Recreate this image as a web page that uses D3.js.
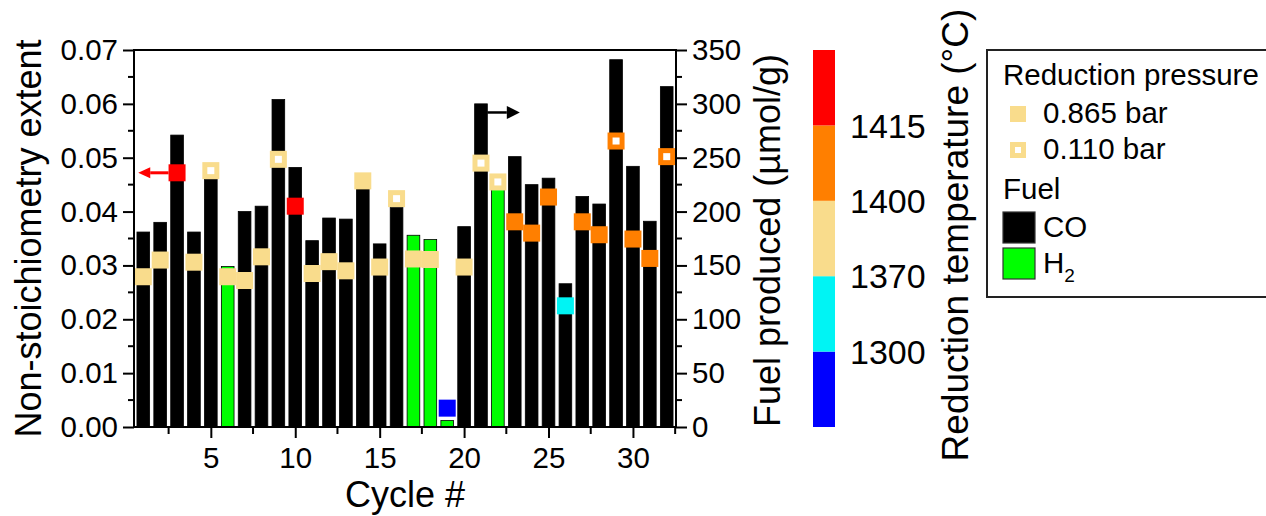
<!DOCTYPE html>
<html>
<head>
<meta charset="utf-8">
<script src="https://cdn.jsdelivr.net/npm/d3@7/dist/d3.min.js"></script>
<style>
  html, body { margin: 0; padding: 0; background: #fff; }
  svg { display: block; font-family: "Liberation Sans", Arial, sans-serif; }
</style>
</head>
<body>
<svg id="chart" width="1266" height="516"></svg>
<script>
// Cycle numbers
const cycles = [1, 2, 3, 4, 5, 6, 7, 8, 9, 10, 11, 12, 13, 14, 15, 16,
                17, 18, 19, 20, 21, 22, 23, 24, 25, 26, 27, 28, 29, 30, 31, 32];
// Fuel produced per cycle (µmol/g), right axis
const fuelProduced = [181, 190, 271, 181, 230, 149, 200, 205, 304, 241, 173, 194, 193, 223, 170, 204,
                      178, 174, 6, 186, 300, 222, 251, 225, 231, 133, 214, 207, 341, 242, 191, 316];
// Non-stoichiometry extent per cycle, left axis
const nonStoich = [0.0279, 0.0310, 0.0472, 0.0306, 0.0476, 0.0279, 0.0272, 0.0316,
                   0.0497, 0.0410, 0.0285, 0.0307, 0.0290, 0.0457, 0.0297, 0.0424,
                   0.0312, 0.0311, 0.0035, 0.0297, 0.0490, 0.0455, 0.0381, 0.0360,
                   0.0427, 0.0225, 0.0381, 0.0357, 0.0531, 0.0349, 0.0313, 0.0502];
// Fuel type per cycle
const fuelType = ["CO", "CO", "CO", "CO", "CO", "H2", "CO", "CO", "CO", "CO", "CO", "CO", "CO", "CO", "CO", "CO",
                  "H2", "H2", "H2", "CO", "CO", "H2", "CO", "CO", "CO", "CO", "CO", "CO", "CO", "CO", "CO", "CO"];
// Reduction temperature per cycle (°C)
const reductionTemp = [1385, 1385, 1430, 1385, 1385, 1385, 1385, 1385, 1385, 1430, 1385, 1385, 1385, 1385, 1385, 1385,
                       1385, 1385, 1280, 1385, 1385, 1385, 1410, 1410, 1410, 1350, 1410, 1410, 1410, 1410, 1410, 1410];
// Reduction pressure per cycle (bar)
const reductionPressure = [0.865, 0.865, 0.865, 0.865, 0.110, 0.865, 0.865, 0.865, 0.110, 0.865, 0.865, 0.865, 0.865, 0.865, 0.865, 0.110,
                           0.865, 0.865, 0.865, 0.865, 0.110, 0.110, 0.865, 0.865, 0.865, 0.865, 0.865, 0.865, 0.110, 0.865, 0.865, 0.110];

// Axis ticks and colour bar
const leftTicks = [0, 0.01, 0.02, 0.03, 0.04, 0.05, 0.06, 0.07];
const rightTicks = [0, 50, 100, 150, 200, 250, 300, 350];
const xTicks = [5, 10, 15, 20, 25, 30];
const tempThresholds = [1300, 1370, 1400, 1415];
const tempColors = ["#0000ff", "#00f4f4", "#f9dc8c", "#ff7f00", "#ff0000"];
const tempLabels = ["1300", "1370", "1400", "1415"];

const data = cycles.map((c, i) => ({
  cycle: c, fuel: fuelProduced[i], delta: nonStoich[i], type: fuelType[i],
  temp: reductionTemp[i], pressure: reductionPressure[i]
}));

const svg = d3.select("#chart");
const plot = { left: 134, right: 676, top: 50, bottom: 427 };

const x = d3.scaleLinear().domain([0.45, 32.55]).range([plot.left, plot.right]);
const yL = d3.scaleLinear().domain([0, 0.07]).range([plot.bottom, plot.top]);
const yR = d3.scaleLinear().domain([0, 350]).range([plot.bottom, plot.top]);
const tempColor = d3.scaleThreshold().domain(tempThresholds).range(tempColors);
const fuelColor = d3.scaleOrdinal().domain(["CO", "H2"]).range(["#000000", "#00ff00"]);

const step = x(2) - x(1);
const barW = step * 0.75;
const mark = 17;

// Bars: fuel produced
svg.append("g").selectAll("rect").data(data).join("rect")
  .attr("x", d => x(d.cycle) - barW / 2)
  .attr("width", barW)
  .attr("y", d => yR(d.fuel))
  .attr("height", d => yR(0) - yR(d.fuel))
  .attr("fill", d => fuelColor(d.type))
  .attr("stroke", "#000")
  .attr("stroke-width", 0.8);

// Square markers: non-stoichiometry extent coloured by reduction temperature
const markers = svg.append("g").selectAll("g").data(data).join("g")
  .attr("transform", d => `translate(${x(d.cycle)},${yL(d.delta)})`);
markers.append("rect")
  .attr("x", -mark / 2).attr("y", -mark / 2)
  .attr("width", mark).attr("height", mark)
  .attr("fill", d => tempColor(d.temp));
markers.filter(d => d.pressure < 0.5).append("rect")
  .attr("x", -3.5).attr("y", -3.5).attr("width", 7).attr("height", 7)
  .attr("fill", "#fff");

// Axes
const tickFont = 29.5;
const axisStroke = 2;

function styleAxis(g) {
  g.select(".domain").remove();
  g.selectAll("line").attr("stroke", "#000").attr("stroke-width", axisStroke);
  g.selectAll("text").attr("font-size", tickFont).attr("fill", "#000")
    .attr("font-family", "'Liberation Sans', Arial, sans-serif");
}

// Left axis
const gL = svg.append("g").attr("transform", `translate(${plot.left},0)`)
  .call(d3.axisLeft(yL).tickValues(leftTicks).tickFormat(d3.format(".2f")).tickSize(11).tickPadding(5));
styleAxis(gL);
svg.append("g").selectAll("line").data(d3.range(0.005, 0.07, 0.01)).join("line")
  .attr("x1", plot.left - 6).attr("x2", plot.left)
  .attr("y1", d => yL(d)).attr("y2", d => yL(d))
  .attr("stroke", "#000").attr("stroke-width", axisStroke);

// Right axis
const gR = svg.append("g").attr("transform", `translate(${plot.right},0)`)
  .call(d3.axisRight(yR).tickValues(rightTicks).tickSize(11).tickPadding(5));
styleAxis(gR);
svg.append("g").selectAll("line").data(d3.range(25, 350, 50)).join("line")
  .attr("x1", plot.right).attr("x2", plot.right + 6)
  .attr("y1", d => yR(d)).attr("y2", d => yR(d))
  .attr("stroke", "#000").attr("stroke-width", axisStroke);

// Bottom axis
const gB = svg.append("g").attr("transform", `translate(0,${plot.bottom})`)
  .call(d3.axisBottom(x).tickValues(xTicks).tickFormat(d3.format("d")).tickSize(11).tickPadding(9));
styleAxis(gB);
svg.append("g").selectAll("line").data([2.5, 7.5, 12.5, 17.5, 22.5, 27.5, 32.5]).join("line")
  .attr("x1", d => x(d)).attr("x2", d => x(d))
  .attr("y1", plot.bottom).attr("y2", plot.bottom + 7)
  .attr("stroke", "#000").attr("stroke-width", axisStroke);

// Frame
svg.append("rect")
  .attr("x", plot.left).attr("y", plot.top)
  .attr("width", plot.right - plot.left).attr("height", plot.bottom - plot.top)
  .attr("fill", "none").attr("stroke", "#000").attr("stroke-width", axisStroke);

// Axis indicator arrows
function arrow(x1, x2, yv, color, w, headL, headH) {
  const dir = Math.sign(x2 - x1);
  svg.append("line")
    .attr("x1", x1).attr("x2", x2 - dir * headL).attr("y1", yv).attr("y2", yv)
    .attr("stroke", color).attr("stroke-width", w);
  svg.append("path")
    .attr("d", `M${x2},${yv} L${x2 - dir * headL},${yv - headH / 2} L${x2 - dir * headL},${yv + headH / 2} Z`)
    .attr("fill", color);
}
const d3c = data[2];
arrow(x(d3c.cycle) - mark / 2, x(0.7), yL(d3c.delta), "#ff0000", 3, 12, 11);
const d21 = data[20];
arrow(x(d21.cycle) + barW / 2, x(23.3), yR(292), "#000000", 2.5, 13, 13);

// Axis titles
const titleFont = 36;
svg.append("text")
  .attr("transform", `translate(41,${(plot.top + plot.bottom) / 2}) rotate(-90)`)
  .attr("text-anchor", "middle").attr("font-size", titleFont)
  .text("Non-stoichiometry extent");
svg.append("text")
  .attr("transform", `translate(780,${(plot.top + plot.bottom) / 2 + 2}) rotate(-90)`)
  .attr("text-anchor", "middle").attr("font-size", titleFont)
  .text("Fuel produced (µmol/g)");
svg.append("text")
  .attr("x", (plot.left + plot.right) / 2).attr("y", 507)
  .attr("text-anchor", "middle").attr("font-size", titleFont)
  .text("Cycle #");

// Colour bar for reduction temperature
const cb = { x: 813, w: 22, top: 50, bottom: 427 };
const cbY = d3.scaleLinear().domain([0, tempColors.length]).range([cb.bottom, cb.top]);
svg.append("g").selectAll("rect").data(tempColors).join("rect")
  .attr("x", cb.x).attr("width", cb.w)
  .attr("y", (d, i) => cbY(i + 1))
  .attr("height", (d, i) => cbY(i) - cbY(i + 1))
  .attr("fill", d => d);
svg.append("g").selectAll("text").data(tempLabels).join("text")
  .attr("x", 850).attr("y", (d, i) => cbY(i + 1))
  .attr("dy", "0.36em")
  .attr("font-size", 34)
  .text(d => d);
svg.append("text")
  .attr("transform", `translate(968,235) rotate(-90)`)
  .attr("text-anchor", "middle").attr("font-size", 37)
  .text("Reduction temperature (°C)");

// Legend
const lg = svg.append("g");
const legendFont = 29.5;
lg.append("rect").attr("x", 987).attr("y", 50).attr("width", 320).attr("height", 247)
  .attr("fill", "#fff").attr("stroke", "#222").attr("stroke-width", 2);
lg.append("text").attr("x", 1003).attr("y", 85).attr("font-size", legendFont).text("Reduction pressure");
const pressureItems = [{ p: 0.865, label: "0.865 bar", cy: 114 }, { p: 0.110, label: "0.110 bar", cy: 150 }];
pressureItems.forEach(it => {
  lg.append("rect").attr("x", 1010).attr("y", it.cy - 8).attr("width", 16).attr("height", 16)
    .attr("fill", tempColor(1385));
  if (it.p < 0.5) {
    lg.append("rect").attr("x", 1015).attr("y", it.cy - 3).attr("width", 6).attr("height", 6).attr("fill", "#fff");
  }
  lg.append("text").attr("x", 1043).attr("y", it.cy + 9).attr("font-size", legendFont).text(it.label);
});
lg.append("text").attr("x", 1003).attr("y", 199).attr("font-size", legendFont).text("Fuel");
const fuelItems = [{ t: "CO", y: 212 }, { t: "H2", y: 248 }];
fuelItems.forEach(it => {
  lg.append("rect").attr("x", 1003).attr("y", it.y).attr("width", 32).attr("height", 31)
    .attr("fill", fuelColor(it.t)).attr("stroke", "#333").attr("stroke-width", 1.2);
});
lg.append("text").attr("x", 1043).attr("y", 237).attr("font-size", legendFont).text("CO");
const h2 = lg.append("text").attr("x", 1043).attr("y", 273).attr("font-size", legendFont);
h2.append("tspan").text("H");
h2.append("tspan").attr("font-size", 19).attr("dy", 9).text("2");
</script>
</body>
</html>
